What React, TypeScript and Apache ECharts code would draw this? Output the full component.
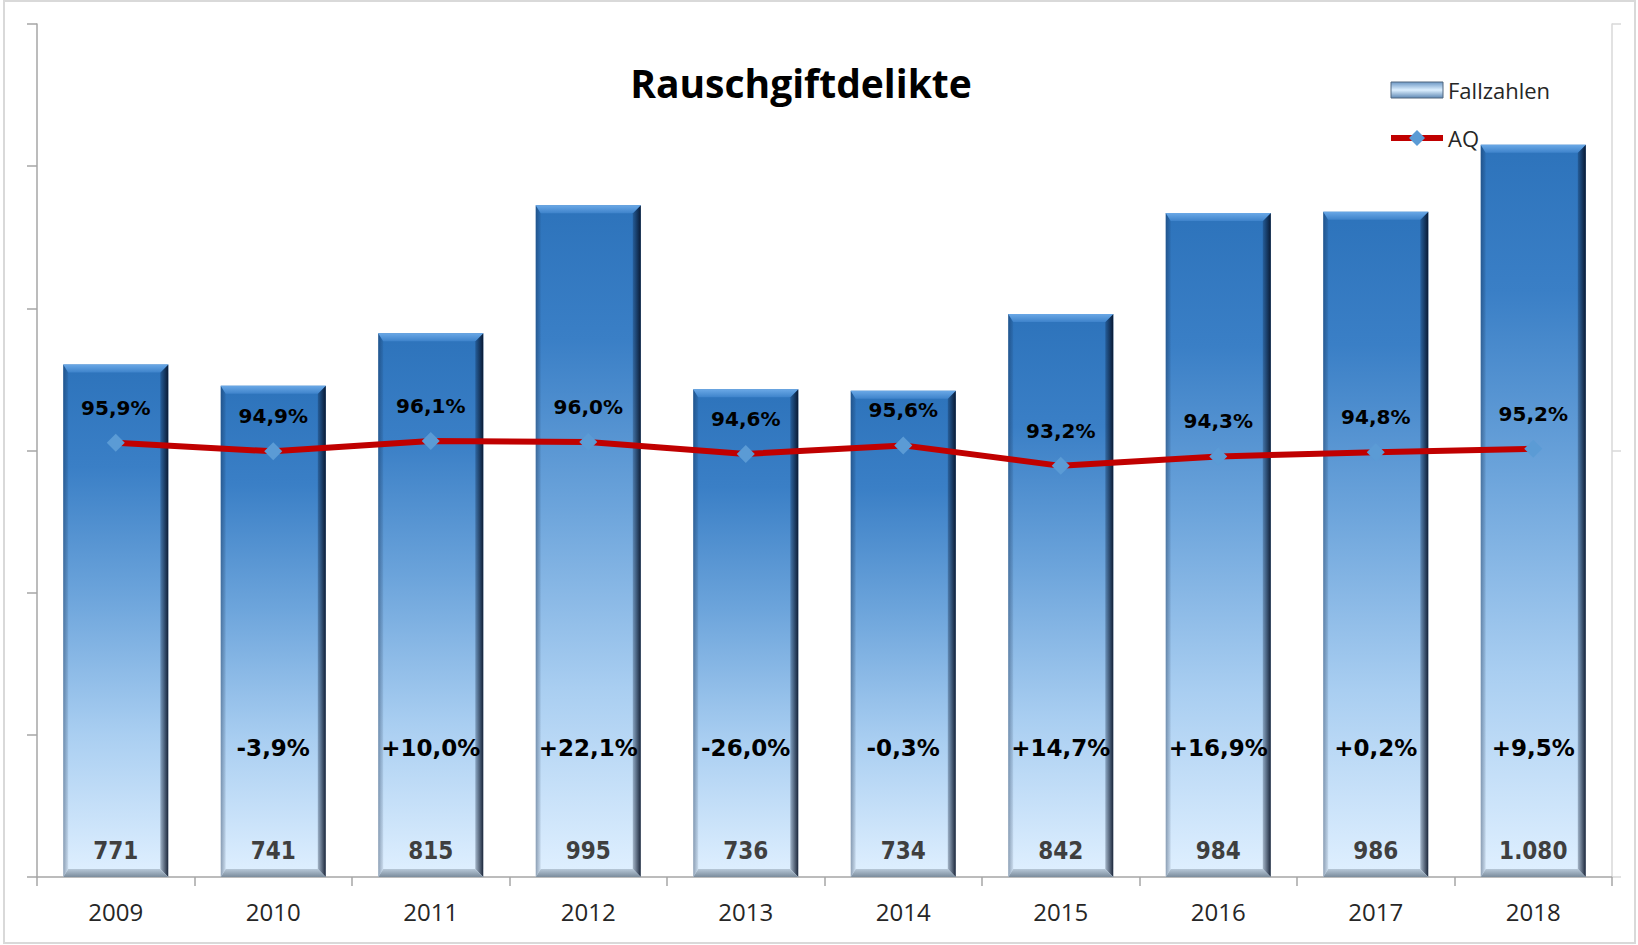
import React, { useEffect, useRef } from "react";
import * as echarts from "echarts";

// ---- data ----
const years = ["2009", "2010", "2011", "2012", "2013", "2014", "2015", "2016", "2017", "2018"];
const cases = [771, 741, 815, 995, 736, 734, 842, 984, 986, 1080];
const aqRate = [95.9, 94.9, 96.1, 96.0, 94.6, 95.6, 93.2, 94.3, 94.8, 95.2];
const changes: (number | null)[] = [null, -3.9, 10.0, 22.1, -26.0, -0.3, 14.7, 16.9, 0.2, 9.5];
const seriesNames = ["Fallzahlen", "AQ"];
const titleText = "Rauschgiftdelikte";

// axis ranges
const caseAxisMin = 50;
const caseAxisMax = 1250;
const aqAxisMin = 45;
const aqAxisMax = 145;

const fmtInt = (n: number) =>
  n >= 1000 ? Math.floor(n / 1000) + "." + String(n % 1000).padStart(3, "0") : String(n);
const fmtPct = (v: number) => v.toFixed(1).replace(".", ",") + "%";
const fmtChange = (v: number) =>
  (v > 0 ? "+" : v < 0 ? "-" : "") + Math.abs(v).toFixed(1).replace(".", ",") + "%";

const AXIS_GRAY = "#a6a6a6";

export default function App() {
  const ref = useRef<HTMLDivElement>(null);

  useEffect(() => {
    if (!ref.current) return;
    const chart = echarts.init(ref.current, undefined, { renderer: "svg" });

    const barFill = new echarts.graphic.LinearGradient(0, 0, 0, 1, [
      { offset: 0, color: "#2d73bb" },
      { offset: 0.2, color: "#3a7fc6" },
      { offset: 0.45, color: "#6ca4db" },
      { offset: 0.72, color: "#a9cef1" },
      { offset: 1, color: "#e0f0ff" },
    ]);

    const renderBar = (params: any, api: any) => {
      const idx = params.dataIndex;
      const val = api.value(1);
      const pt = api.coord([api.value(0), val]);
      const cs = params.coordSys;
      const bottom = cs.y + cs.height;
      const w = api.size([1, 0])[0] * 0.667;
      const cx = pt[0];
      const x0 = cx - w / 2;
      const x1 = cx + w / 2;
      const top = pt[1];
      const b = 8;
      const bl = 5;
      const children: any[] = [
        {
          type: "rect",
          shape: { x: x0, y: top, width: w, height: bottom - top },
          style: { fill: barFill },
        },
        {
          type: "polygon",
          shape: { points: [[x0, top], [x0 + bl, top + b], [x0 + bl, bottom - b], [x0, bottom]] },
          style: {
            fill: new echarts.graphic.LinearGradient(0, 0, 1, 0, [
              { offset: 0, color: "rgba(10,30,60,0.38)" },
              { offset: 1, color: "rgba(10,30,60,0.08)" },
            ]),
          },
        },
        {
          type: "polygon",
          shape: { points: [[x1, top], [x1, bottom], [x1 - b, bottom - b], [x1 - b, top + b]] },
          style: {
            fill: new echarts.graphic.LinearGradient(0, 0, 1, 0, [
              { offset: 0, color: "rgba(5,20,45,0.25)" },
              { offset: 1, color: "rgba(5,15,35,0.9)" },
            ]),
          },
        },
        {
          type: "polygon",
          shape: { points: [[x0, top], [x1, top], [x1 - b, top + b], [x0 + bl, top + b]] },
          style: {
            fill: new echarts.graphic.LinearGradient(0, 0, 0, 1, [
              { offset: 0, color: "#6aa8e6" },
              { offset: 1, color: "#3e83cb" },
            ]),
          },
        },
        {
          type: "polygon",
          shape: { points: [[x0, bottom], [x1, bottom], [x1 - b, bottom - b], [x0 + bl, bottom - b]] },
          style: {
            fill: new echarts.graphic.LinearGradient(0, 0, 0, 1, [
              { offset: 0, color: "#b7c8d8" },
              { offset: 1, color: "#7b8c9c" },
            ]),
          },
        },
        {
          type: "text",
          x: cx,
          y: bottom - 26,
          style: {
            text: fmtInt(val),
            align: "center",
            verticalAlign: "middle",
            fontFamily: "'DejaVu Sans Condensed', 'DejaVu Sans'",
            fontWeight: "bold",
            fontSize: 24,
            fill: "#3f3f3f",
          },
        },
      ];
      const ch = changes[idx];
      if (ch !== null && ch !== undefined) {
        children.push({
          type: "text",
          x: cx,
          y: bottom - 129,
          style: {
            text: fmtChange(ch),
            align: "center",
            verticalAlign: "middle",
            fontFamily: "'DejaVu Sans'",
            fontWeight: "bold",
            fontSize: 23,
            fill: "#000000",
          },
        });
      }
      return { type: "group", children };
    };

    const option: any = {
      animation: false,
      backgroundColor: "#ffffff",
      grid: { left: 37, right: 26, top: 24, bottom: 68, outerBoundsMode: "none" },
      graphic: [
        {
          type: "rect",
          z: -10,
          shape: { x: 4, y: 1, width: 1631, height: 942 },
          style: { fill: "none", stroke: "#d9d9d9", lineWidth: 2 },
        },
        {
          type: "text",
          x: 801,
          y: 82,
          z: 10,
          style: {
            text: titleText,
            align: "center",
            verticalAlign: "middle",
            fontFamily: "'Open Sans'",
            fontWeight: "bold",
            fontSize: 39,
            fill: "#000000",
          },
        },
      ],
      legend: {
        orient: "vertical",
        left: 1383,
        top: 74,
        itemWidth: 52,
        itemHeight: 20,
        itemGap: 26,
        symbolKeepAspect: true,
        textStyle: { fontFamily: "'Open Sans'", fontSize: 22, color: "#262626", lineHeight: 22 },
        data: [
          {
            name: seriesNames[0],
            icon: "path://M0,0H52V16H0Z",
            itemStyle: {
              color: new echarts.graphic.LinearGradient(0, 0, 0, 1, [
                { offset: 0, color: "#6c97c4" },
                { offset: 0.5, color: "#dcefff" },
                { offset: 1, color: "#5e88b4" },
              ]),
              borderColor: "#51677e",
              borderWidth: 1,
            },
          },
          {
            name: seriesNames[1],
            lineStyle: { color: "#c00000", width: 6 },
            itemStyle: { color: "#5b9bd5" },
          },
        ],
      },
      xAxis: {
        type: "category",
        data: years,
        boundaryGap: true,
        axisLine: { show: true, lineStyle: { color: AXIS_GRAY, width: 1.5 } },
        axisTick: { show: true, length: 9, alignWithLabel: false, lineStyle: { color: AXIS_GRAY, width: 1.5 } },
        axisLabel: { fontFamily: "'Open Sans'", fontSize: 24, color: "#262626", margin: 22 },
        splitLine: { show: false },
      },
      yAxis: [
        {
          type: "value",
          position: "left",
          min: caseAxisMin,
          max: caseAxisMax,
          axisLine: { show: true, lineStyle: { color: AXIS_GRAY, width: 1.5 } },
          axisTick: { show: false },
          axisLabel: { show: false },
          splitLine: { show: false },
        },
        {
          type: "value",
          position: "right",
          min: aqAxisMin,
          max: aqAxisMax,
          axisLine: { show: true, lineStyle: { color: "#d9d9d9", width: 1.5 } },
          axisTick: { show: false },
          axisLabel: { show: false },
          splitLine: { show: false },
        },
        {
          type: "value",
          position: "left",
          min: 0,
          max: 6,
          interval: 1,
          axisLine: { show: false },
          axisTick: { show: true, length: 10, lineStyle: { color: AXIS_GRAY, width: 1.5 } },
          axisLabel: { show: false },
          splitLine: { show: false },
        },
        {
          type: "value",
          position: "right",
          min: 0,
          max: 2,
          interval: 1,
          axisLine: { show: false },
          axisTick: { show: true, length: 9, lineStyle: { color: "#d9d9d9", width: 1.5 } },
          axisLabel: { show: false },
          splitLine: { show: false },
        },
      ],
      series: [
        {
          name: seriesNames[0],
          type: "custom",
          yAxisIndex: 0,
          itemStyle: { color: "#5b9bd5" },
          encode: { x: 0, y: 1 },
          data: years.map((y, i) => [y, cases[i]]),
          renderItem: renderBar,
          z: 2,
        },
        {
          name: seriesNames[1],
          type: "line",
          yAxisIndex: 1,
          data: aqRate,
          symbol: "diamond",
          symbolSize: 18,
          lineStyle: { color: "#c00000", width: 6 },
          itemStyle: { color: "#5b9bd5" },
          label: {
            show: true,
            position: "top",
            distance: 16,
            formatter: (p: any) => fmtPct(p.value),
            fontFamily: "'DejaVu Sans'",
            fontWeight: "bold",
            fontSize: 20,
            color: "#000000",
          },
          z: 5,
        },
      ],
    };

    chart.setOption(option);
    return () => chart.dispose();
  }, []);

  return (
    <div
      ref={ref}
      style={{ position: "absolute", left: 0, top: 0, width: 1638, height: 945, background: "#fff" }}
    />
  );
}
